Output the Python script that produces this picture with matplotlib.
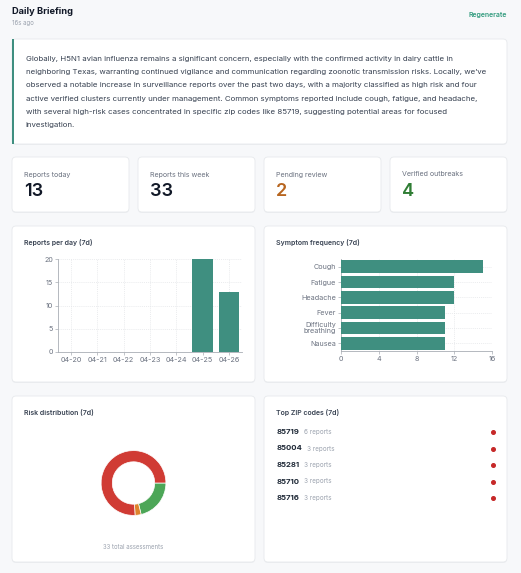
import matplotlib
matplotlib.use('Agg')
import matplotlib.pyplot as plt
from matplotlib.patches import FancyBboxPatch, Rectangle
import numpy as np

plt.rcParams['font.family'] = ['Inter', 'DejaVu Sans']

# data
briefing_lines = [
    "Globally, H5N1 avian influenza remains a significant concern, especially with the confirmed activity in dairy cattle in",
    "neighboring Texas, warranting continued vigilance and communication regarding zoonotic transmission risks. Locally, we\u2019ve",
    "observed a notable increase in surveillance reports over the past two days, with a majority classified as high risk and four",
    "active verified clusters currently under management. Common symptoms reported include cough, fatigue, and headache,",
    "with several high-risk cases concentrated in specific zip codes like 85719, suggesting potential areas for focused",
    "investigation.",
]
stat_labels = ["Reports today", "Reports this week", "Pending review", "Verified outbreaks"]
stat_values = [13, 33, 2, 4]
stat_colors = ["#111827", "#111827", "#b7651f", "#2f7d34"]

days = ["04-20", "04-21", "04-22", "04-23", "04-24", "04-25", "04-26"]
reports_per_day = [0, 0, 0, 0, 0, 20, 13]

symptoms = ["Cough", "Fatigue", "Headache", "Fever", "Difficulty\nbreathing", "Nausea"]
symptom_counts = [15, 12, 12, 11, 11, 11]

risk_levels = ["Low", "Medium", "High"]
risk_counts = [7, 1, 25]
risk_colors = ["#4ca657", "#de832c", "#d03b34"]

zip_codes = ["85719", "85004", "85281", "85710", "85716"]
zip_reports = [6, 3, 3, 3, 3]

W, H = 521, 573
TEAL = "#3f8f80"
fig = plt.figure(figsize=(W / 100, H / 100), dpi=100)
fig.patch.set_facecolor("#f7f8fa")

bg = fig.add_axes([0, 0, 1, 1])
bg.set_xlim(0, W)
bg.set_ylim(H, 0)
bg.axis("off")


def card(x0, y0, x1, y1):
    bg.add_patch(FancyBboxPatch((x0, y0 + 1), x1 - x0, y1 - y0, boxstyle="round,pad=0,rounding_size=4",
                                fc="#eceef1", ec="none", zorder=1))
    bg.add_patch(FancyBboxPatch((x0, y0), x1 - x0, y1 - y0, boxstyle="round,pad=0,rounding_size=4",
                                fc="white", ec="#e7e9ec", lw=0.6, zorder=2))


def px_axes(x0, y0, x1, y1):
    return fig.add_axes([x0 / W, 1 - y1 / H, (x1 - x0) / W, (y1 - y0) / H])


# header
bg.text(12, 12, "Daily Briefing", fontsize=6.7, fontweight="bold", color="#111827", va="center")
bg.text(12, 23.5, "16s ago", fontsize=4.4, color="#9ca3af", va="center")
bg.text(507, 15.5, "Regenerate", fontsize=5.0, color="#2f9a7c", fontweight="semibold", ha="right", va="center")

# briefing card
card(12, 39, 507, 144)
bg.add_patch(Rectangle((12, 39), 1.6, 105, fc="#3f8f80", ec="none", zorder=3))
for i, line in enumerate(briefing_lines):
    bg.text(26, 58.7 + i * 13.35, line, fontsize=5.65, color="#374151", va="center", zorder=4)

# stat cards
for i, (lab, val, col) in enumerate(zip(stat_labels, stat_values, stat_colors)):
    x0 = 12 + i * 126
    card(x0, 157, x0 + 117, 212)
    bg.text(x0 + 12, 174.5, lab, fontsize=5.1, color="#6b7280", va="center", zorder=4)
    bg.text(x0 + 12, 191, str(val), fontsize=13, fontweight="semibold", color=col, va="center", zorder=4)

# chart cards
card(12, 226, 255, 382)
card(264, 226, 507, 382)
card(12, 396, 255, 562)
card(264, 396, 507, 562)
title_kw = dict(fontsize=5.0, fontweight="semibold", color="#374151", va="center", zorder=4)
bg.text(24, 243, "Reports per day (7d)", **title_kw)
bg.text(276, 243, "Symptom frequency (7d)", **title_kw)
bg.text(24, 413, "Risk distribution (7d)", **title_kw)
bg.text(276, 413, "Top ZIP codes (7d)", **title_kw)


def style_axes(ax):
    for s in ["top", "right"]:
        ax.spines[s].set_visible(False)
    for s in ["left", "bottom"]:
        ax.spines[s].set_color("#a8adb4")
        ax.spines[s].set_linewidth(0.6)
    ax.tick_params(labelsize=5.2, colors="#a8adb4", labelcolor="#6b7280", length=2, width=0.5, pad=1.5)
    ax.grid(True, color="#e3e5e8", linestyle=(0, (1.5, 1.5)), linewidth=0.5)
    ax.set_axisbelow(True)
    ax.set_facecolor("none")


# reports per day
ax1 = px_axes(58, 259, 242, 352)
x = np.arange(len(days))
ax1.bar(x, reports_per_day, width=0.78, color=TEAL, zorder=3)
ax1.set_xlim(-0.5, len(days) - 0.5)
ax1.set_ylim(0, 20)
ax1.set_yticks([0, 5, 10, 15, 20])
ax1.set_xticks(x)
ax1.set_xticklabels(days)
style_axes(ax1)

# symptom frequency
ax2 = px_axes(341, 259, 492, 351)
y = np.arange(len(symptoms))
ax2.barh(y, symptom_counts, height=0.82, color=TEAL, zorder=3)
ax2.set_ylim(len(symptoms) - 0.5, -0.5)
ax2.set_xlim(0, 16)
ax2.set_xticks([0, 4, 8, 12, 16])
ax2.set_yticks(y)
ax2.set_yticklabels(symptoms, linespacing=0.85)
style_axes(ax2)

# risk donut
ax3 = px_axes(133.5 - 42, 483 - 42, 133.5 + 42, 483 + 42)
ax3.pie(risk_counts, colors=risk_colors, startangle=0, counterclock=False, radius=40.5 / 42,
        wedgeprops=dict(width=14 / 42, edgecolor="white", linewidth=0.5))
ax3.set_aspect("equal")
bg.text(133.5, 547, f"{sum(risk_counts)} total assessments", fontsize=4.4, color="#9ca3af",
        ha="center", va="center", zorder=4)

# top zip codes
for i, (z, n) in enumerate(zip(zip_codes, zip_reports)):
    yy = 432 + i * 16.5
    t = bg.text(277, yy, z, fontsize=5.6, fontweight="bold", color="#1f2937", va="center", zorder=4)
    bg.annotate(f"{n} reports", xy=(1, 0.5), xycoords=t, xytext=(3, 0), textcoords="offset points",
                fontsize=4.6, color="#9ca3af", va="center", ha="left", zorder=4)
    bg.plot(492.5, yy, "o", color="#c62828", markersize=2.6, zorder=4)

fig.savefig("out.png", dpi=100, facecolor=fig.get_facecolor())
